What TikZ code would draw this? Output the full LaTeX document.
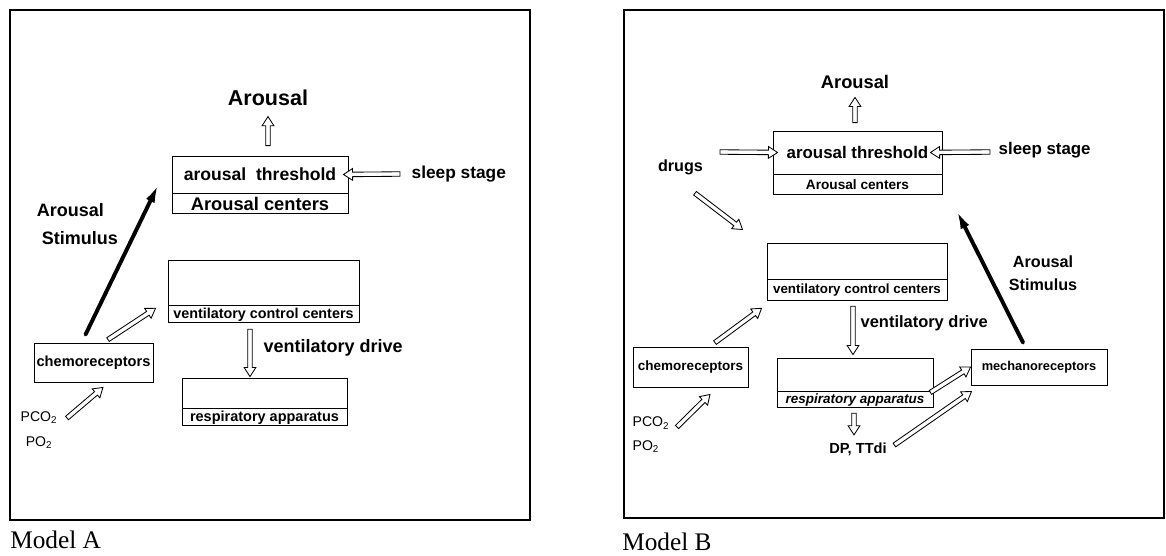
\documentclass[tikz,border=0pt]{standalone}
\usepackage{fontspec}
\setmainfont{Liberation Sans}
\newfontfamily\modelfont{Liberation Serif}
\usetikzlibrary{arrows.meta,positioning,calc}

\begin{document}
\begin{tikzpicture}[x=0.025cm,y=-0.025cm,
    box/.style={draw,line width=0.6pt,inner sep=0pt,minimum width=#1},
    txt/.style={font=\bfseries\fontsize{#1}{#1}\selectfont,inner sep=1pt},
    stim/.style={line width=2.8pt,line cap=round,-{Latex[length=15pt,width=6.5pt]}},
    model/.style={font=\modelfont\fontsize{18pt}{18pt}\selectfont,anchor=west,inner sep=0pt},
  ]
% outlined block arrow from #1 to #2
\def\hollowarrow#1#2{%
  \draw[line width=0.6pt,fill=white,line join=miter]
    let \p1=#1, \p2=#2,
        \n1={atan2(\y2-\y1,\x2-\x1)},
        \n2={veclen(\x2-\x1,\y2-\y1)}
    in [shift={(\p1)},rotate=\n1]
    (0pt,1.6pt) -- ({\n2-6.5pt},1.6pt) -- ({\n2-6.5pt},4.2pt) -- ({\n2*1pt},0pt)
    -- ({\n2-6.5pt},-4.2pt) -- ({\n2-6.5pt},-1.6pt) -- (0pt,-1.6pt) -- cycle;}
\useasboundingbox (0,0) rectangle (1166,555);

% the two panels
\draw[line width=1pt] (10,10) rectangle (530,520);
\draw[line width=1pt] (624,10) rectangle (1164,518);

% ---- Model A ----
\node[box=4.4cm,minimum height=0.925cm,txt=12.5pt] (thrA) at (260,174.5) {arousal\ \ threshold};
\node[box=4.4cm,minimum height=0.5cm,txt=13pt,below=0pt of thrA] (cenA) {Arousal centers};
\node[txt=15.3pt] (arA) at (268,98) {Arousal};
\hollowarrow{($(thrA.north)+(8,-10)$)}{($(arA.south)+(0,9)$)}
\node[txt=12.3pt,anchor=west] (slpA) at (410,174) {sleep stage};
\hollowarrow{($(slpA.west)+(-10,0)$)}{($(thrA.east)+(-5,0)$)}

\node[box=4.775cm,minimum height=1.125cm] (ventA) at (263.5,282.5) {};
\node[box=4.775cm,minimum height=0.425cm,txt=10.2pt,below=0pt of ventA] (ventAl) {ventilatory control centers};

\node[box=2.975cm,minimum height=0.975cm,txt=10.4pt] (chemA) at (93.5,362.5) {chemoreceptors};
\draw[stim] ($(chemA.north)+(-8,-8)$) -- ($(thrA.west)+(-12,7.5)$);
\node[font=\bfseries\fontsize{12.8pt}{20pt}\selectfont,align=left,anchor=west] (stiA) at (32,224) {Arousal\\\hspace*{3.5pt}Stimulus};
\hollowarrow{($(chemA.north)+(14.5,-3)$)}{($(ventAl.south west)+(-12,-15)$)}

\node[font=\fontsize{10pt}{17.8pt}\selectfont,align=center,inner sep=1pt] (gasA) at (39,430) {PCO\textsubscript{2}\\PO\textsubscript{2}};
\hollowarrow{($(gasA.east)+(8,-12)$)}{($(chemA.south)+(9.5,5)$)}

\node[box=4.125cm,minimum height=0.75cm] (respA) at (264.5,393) {};
\node[box=4.125cm,minimum height=0.425cm,txt=10.3pt,below=0pt of respA] (respAl) {respiratory apparatus};
\hollowarrow{($(ventAl.south)+(-13.5,6)$)}{($(respA.north)+(-14.5,-1)$)}
\node[txt=12.8pt,anchor=west] (drvA) at (262,348) {ventilatory drive};

\node[model] (modA) at (10,540) {Model A};

% ---- Model B ----
\node[box=4.225cm,minimum height=1.075cm,txt=12pt] (thrB) at (857.5,152.5) {arousal threshold};
\node[box=4.225cm,minimum height=0.5cm,txt=9.7pt,below=0pt of thrB] (cenB) {Arousal centers};
\node[txt=13pt] (arB) at (855,82) {Arousal};
\hollowarrow{($(thrB.north)+(-2.5,-8)$)}{($(arB.south)+(0,7)$)}
\node[txt=12pt,anchor=west] (slpB) at (997,150) {sleep stage};
\hollowarrow{($(slpB.west)+(-7,2)$)}{($(thrB.east)+(-12,0)$)}

\node[txt=11.5pt] (drgB) at (680.5,167) {drugs};
\coordinate (drgIn) at (720,152);
\hollowarrow{(drgIn)}{($(thrB.west)+(5,0)$)}

\node[box=4.5cm,minimum height=0.9cm] (ventB) at (857,261) {};
\node[box=4.5cm,minimum height=0.525cm,txt=9.5pt,below=0pt of ventB] (ventBl) {ventilatory control centers};
\hollowarrow{($(drgB.south)+(14.5,17)$)}{($(ventB.north west)+(-24,-13)$)}

\node[box=3.4cm,minimum height=0.9cm,txt=9.1pt] (mechB) at (1039,367) {mechanoreceptors};
\draw[stim] ($(mechB.north)+(-16,-6)$) -- ($(cenB.south east)+(13,13)$);
\node[font=\bfseries\fontsize{11.5pt}{16.4pt}\selectfont,align=center] (stiB) at (1043,273) {Arousal\\Stimulus};

\node[box=2.875cm,minimum height=1cm,txt=9.6pt] (chemB) at (690.5,367) {chemoreceptors};
\hollowarrow{($(chemB.north)+(24.5,-4)$)}{($(ventBl.south west)+(-5,7)$)}
\node[font=\fontsize{10pt}{17pt}\selectfont,align=left,inner sep=1pt] (gasB) at (651,435) {PCO\textsubscript{2}\\PO\textsubscript{2}};
\hollowarrow{($(gasB.east)+(6,-8)$)}{($(chemB.south)+(19.5,7)$)}

\node[box=3.9cm,minimum height=0.825cm] (respB) at (855,374.5) {};
\node[box=3.9cm,minimum height=0.4cm,font=\bfseries\itshape\fontsize{9.6pt}{9.6pt}\selectfont,below=0pt of respB] (respBl) {respiratory apparatus};
\hollowarrow{($(ventBl.south)+(-4,5)$)}{($(respB.north)+(-2,-3)$)}
\node[txt=11.7pt,anchor=west] (drvB) at (859,323) {ventilatory drive};

\node[txt=10.4pt] (dpB) at (858,449) {DP, TTdi};
\hollowarrow{($(respBl.south)+(-1,5)$)}{($(dpB.north)+(-4,-6)$)}
\hollowarrow{($(respB.south east)+(-3,1)$)}{(mechB.west)}
\hollowarrow{($(dpB.east)+(6,-4)$)}{($(mechB.south west)+(1,6)$)}

\node[model] (modB) at (622,542) {Model B};
\end{tikzpicture}
\end{document}
